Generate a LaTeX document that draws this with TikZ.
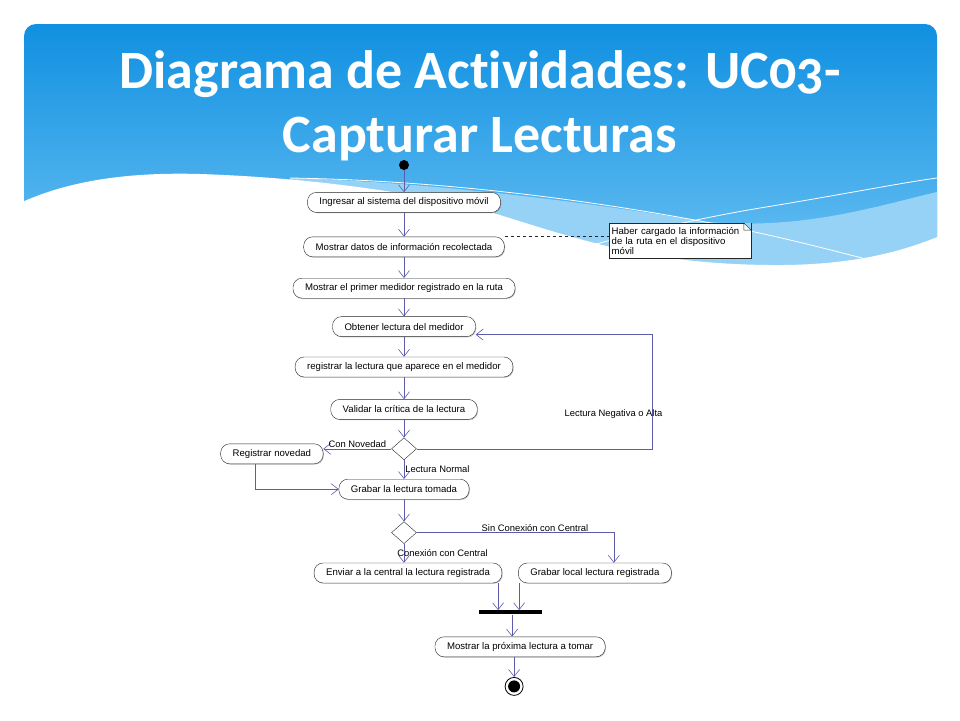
\documentclass[tikz,border=0pt]{standalone}
\usepackage{fontspec}
\setmainfont{Liberation Sans}
\newfontfamily\titlefont{Carlito}[Numbers=OldStyle, Ligatures=NoCommon]
\usepackage{xcolor}
\usetikzlibrary{shapes,arrows.meta,positioning,calc,shadows}

\definecolor{skytop}{RGB}{16,144,225}
\definecolor{skybottom}{RGB}{112,196,244}
\definecolor{skylight}{RGB}{150,210,246}
\definecolor{flowblue}{RGB}{92,92,170}

\begin{document}
\begin{tikzpicture}[
    x=1pt, y=-1pt,
    node distance=20pt,
    activity/.style={rectangle, rounded corners=9pt, draw=black!85, fill=white, minimum height=20pt, inner xsep=12pt, font=\fontsize{9.6}{11}\selectfont, drop shadow={shadow xshift=0.8pt, shadow yshift=-0.8pt, fill=black!45}},
    decision/.style={diamond, draw=black!85, fill=white, minimum width=25pt, minimum height=22pt, inner sep=0pt},
    initial/.style={circle, fill=black, minimum size=10pt, inner sep=0pt},
    final/.style={circle, draw=black, line width=0.8pt, fill=white, minimum size=18pt, inner sep=0pt, path picture={\fill[black] (path picture bounding box.center) circle (6pt);}},
    syncbar/.style={rectangle, fill=black, minimum width=63pt, minimum height=4pt, inner sep=0pt},
    memo/.style={rectangle, draw=black!85, fill=white, text width=136pt, align=left, inner xsep=3pt, inner ysep=2pt, minimum height=35pt, font=\fontsize{9.6}{10}\selectfont, drop shadow={shadow xshift=0.8pt, shadow yshift=-0.8pt, fill=black!45}},
    guard/.style={font=\fontsize{9.4}{11}\selectfont, text=black, inner sep=1pt},
    heading/.style={font=\titlefont\bfseries\fontsize{54}{64}\selectfont, text=white, anchor=base},
    arrow/.style={-{Straight Barb[length=7pt,width=11pt]}, flowblue, line width=0.6pt},
]
\useasboundingbox (0,0) rectangle (960,720);

% Background: sky header with waves
\shade[top color=skytop, bottom color=skybottom, rounded corners=12pt] (24,24) rectangle (937,290);
\fill[skylight] (290,178) .. controls (420,182) and (560,198) .. (700,221) .. controls (800,232) and (880,205) .. (937,192) -- (937,290) -- (290,290) -- cycle;
\fill[white] (20,203) .. controls (70,180) and (130,172) .. (200,174) .. controls (320,178) and (430,195) .. (500,215) .. controls (580,240) and (650,264) .. (770,265) .. controls (860,266) and (910,248) .. (940,236) -- (940,300) -- (20,300) -- cycle;
\draw[white, line width=0.8pt] (290,178) .. controls (420,180) and (560,195) .. (700,221) .. controls (780,236) and (830,250) .. (870,260);
\draw[white, line width=0.8pt] (585,247) .. controls (640,232) and (700,218) .. (760,208) .. controls (840,195) and (900,183) .. (937,178);

% Title
\node[heading] (title_top) at (480,88) {Diagrama de Actividades: UC03-};
\node[heading] (title_bottom) at (480,152) {Capturar Lecturas};

% Main flow
\node[initial] (start) at (404,165) {};
\node[activity, below=22pt of start] (ingresar) {Ingresar al sistema del dispositivo móvil};
\node[activity, below=24pt of ingresar] (mostrar_datos) {Mostrar datos de información recolectada};
\node[activity, below=21pt of mostrar_datos] (primer_medidor) {Mostrar el primer medidor registrado en la ruta};
\node[activity, below=18pt of primer_medidor] (obtener) {Obtener lectura del medidor};
\node[activity, below=20pt of obtener] (registrar) {registrar la lectura que aparece en el medidor};
\node[activity, below=22pt of registrar] (validar) {Validar la crítica de la lectura};
\node[decision, below=18pt of validar] (check_lectura) {};
\node[activity, left=68pt of check_lectura, yshift=-5pt] (novedad) {Registrar novedad};
\node[activity, below=19pt of check_lectura] (grabar) {Grabar la lectura tomada};
\node[decision, below=22pt of grabar] (check_conexion) {};
\node[activity, below=19pt of check_conexion, xshift=4pt] (enviar) {Enviar a la central la lectura registrada};
\node[activity, right=16pt of enviar] (grabar_local) {Grabar local lectura registrada};
\node[syncbar, below=27pt of $(enviar.south east)!0.5!(grabar_local.south west)$] (sync_bar) {};
\node[activity, below=22pt of sync_bar, xshift=10pt] (proxima) {Mostrar la próxima lectura a tomar};
\node[final, below=20pt of proxima, xshift=-6pt] (fin) {};

% Note
\node[memo, right=104pt of mostrar_datos, yshift=6pt] (note) {Haber cargado la información\\de la ruta en el dispositivo\\móvil};
\fill[skylight] ([xshift=-7pt]note.north east) -- (note.north east) -- ([yshift=-7pt]note.north east) -- cycle;
\draw[black!85] ([xshift=-7pt]note.north east) |- ([yshift=-7pt]note.north east) -- cycle;
\draw[black!85, dashed] (mostrar_datos.north east) -- (mostrar_datos.north east -| note.west);

% Arrows - main column
\draw[arrow] (start) -- (ingresar);
\draw[arrow] (ingresar) -- (mostrar_datos);
\draw[arrow] (mostrar_datos) -- (primer_medidor);
\draw[arrow] (primer_medidor) -- (obtener);
\draw[arrow] (obtener) -- (registrar);
\draw[arrow] (registrar) -- (validar);
\draw[arrow] (validar) -- (check_lectura);

% Arrows - reading check
\coordinate[right=236pt of check_lectura.east] (loop_corner);
\draw[arrow] (check_lectura.east) -- (loop_corner) |- node[guard, pos=0.15, left=-11pt] {Lectura Negativa o Alta} ([yshift=-8pt]obtener.east);
\draw[arrow] (check_lectura.west) -- node[guard, pos=0.5, above] {Con Novedad} (check_lectura.west -| novedad.east);
\draw[arrow] (check_lectura.south) -- node[guard, pos=0.5, right] {Lectura Normal} (grabar.north);
\draw[arrow] ([xshift=-17pt]novedad.south) |- (grabar.west);

% Arrows - connection check
\draw[arrow] (grabar) -- (check_conexion);
\draw[arrow] (check_conexion.east) -| node[guard, pos=0.3, above] {Sin Conexión con Central} ([xshift=19pt]grabar_local.north);
\draw[arrow] (check_conexion.south) -- node[guard, pos=0.5, right=-8pt] {Conexión con Central} (check_conexion.south |- enviar.north);

% Arrows - join and end
\draw[arrow] ([xshift=-4pt]enviar.south east) -- ([xshift=-4pt]enviar.south east |- sync_bar.north);
\draw[arrow] ([xshift=1pt]grabar_local.south west) -- ([xshift=1pt]grabar_local.south west |- sync_bar.north);
\draw[arrow] ([xshift=2pt]sync_bar.south) -- ([xshift=2pt]sync_bar.south |- proxima.north);
\draw[arrow] (proxima.south -| fin) -- (fin);

\end{tikzpicture}
\end{document}
